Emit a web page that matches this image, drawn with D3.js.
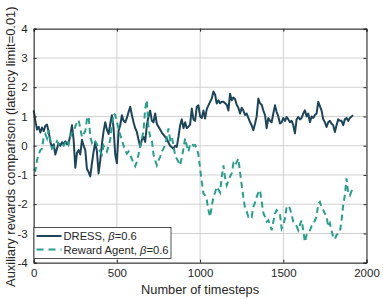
<!DOCTYPE html>
<html><head><meta charset="utf-8">
<script src="https://cdn.jsdelivr.net/npm/d3@7"></script>
<style>body{margin:0;background:#fff}svg{display:block;font-family:"Liberation Sans",Arial,Helvetica,sans-serif}</style>
</head><body><svg id="c" width="383" height="299"></svg>
<script>
const xTicks = [0, 500, 1000, 1500, 2000];
const yTicks = [-4, -3, -2, -1, 0, 1, 2, 3, 4];
const timestepStart = 0, timestepStep = 10;
const dressValues = [1.21,0.85,0.55,0.65,0.45,0.62,0.5,0.68,0.72,0.48,0.12,-0.05,0.05,-0.3,-0.1,0.08,0.0,0.12,0.05,0.15,
0.05,0.1,0.35,0.7,0.2,-0.75,-0.25,-0.15,-0.3,0.2,0.0,-0.15,-0.8,-0.9,-1.05,-0.6,-0.2,0.12,-0.2,-0.95,
-0.5,0.05,0.5,0.8,0.55,0.4,0.75,1.04,0.6,-0.3,-0.6,0.5,0.7,1.04,0.85,0.8,0.95,1.15,1.33,1.05,
0.8,0.6,0.47,0.2,-0.04,0.2,0.3,0.13,0.7,1.0,1.2,0.85,0.8,1.1,0.75,0.65,0.55,0.45,0.38,0.3,
0.25,0.1,0.0,-0.05,-0.1,0.0,-0.04,0.3,0.7,0.9,0.6,0.8,0.6,0.65,0.72,1.27,0.9,0.85,1.33,1.38,
1.0,0.95,1.2,0.93,1.25,1.38,1.5,1.61,1.85,1.75,1.44,1.55,1.45,1.5,1.5,1.45,1.4,1.2,1.78,1.55,
1.65,1.6,1.4,1.3,1.1,1.3,1.2,1.05,1.1,0.95,0.81,0.7,0.53,0.75,1.0,1.61,1.45,1.4,1.2,1.05,
0.6,0.95,0.85,0.8,1.1,1.38,1.15,1.0,0.76,0.8,0.95,0.85,0.98,0.9,0.8,0.85,0.7,0.42,0.9,0.98,
0.9,0.95,1.1,1.21,1.0,1.1,0.8,1.0,0.95,1.05,1.1,1.5,1.35,1.2,0.9,0.8,0.64,0.8,0.85,0.75,
0.7,0.47,0.7,0.9,0.85,0.85,0.7,0.9,0.95,0.85,0.95,1.0,1.04];
const rewardAgentValues = [-0.8,-0.85,-0.5,-0.3,-0.15,-0.1,0.3,0.4,0.25,0.53,0.2,-0.1,-0.05,0.0,0.15,0.05,0.1,0.05,0.0,0.1,
0.2,0.05,0.3,0.45,0.5,0.65,0.81,0.87,0.6,0.3,0.4,0.5,0.9,1.0,0.3,0.1,0.2,0.15,0.05,-0.1,
-0.2,-0.3,0.0,-0.1,-0.2,0.0,0.2,0.7,1.1,1.05,0.8,0.6,0.36,0.2,0.0,-0.15,-0.27,-0.2,-0.3,-0.45,
-0.61,-0.7,-0.55,-0.3,0.0,0.25,0.5,1.27,1.56,0.6,0.3,0.2,-0.3,-0.5,-0.67,-0.5,-0.38,-0.2,-0.1,0.02,
0.3,0.59,0.2,0.3,0.0,-0.32,-0.45,-0.55,-0.67,-0.4,-0.1,0.25,0.0,-0.2,0.05,0.08,0.0,0.02,-0.1,-0.3,
-0.78,-1.24,-1.63,-1.7,-1.86,-2.2,-2.43,-2.09,-1.75,-1.6,-1.41,-1.5,-1.6,-1.07,-0.67,-1.1,-1.35,-1.2,-1.05,-0.95,
-0.61,-0.7,-0.55,-0.44,-0.9,-1.35,-1.75,-2.15,-2.25,-2.43,-2.38,-2.43,-2.09,-1.95,-1.75,-1.6,-1.52,-1.9,-2.3,-2.43,
-2.6,-2.55,-2.7,-2.89,-2.6,-2.32,-2.2,-2.25,-2.35,-2.83,-2.7,-2.5,-2.09,-2.05,-2.15,-2.35,-2.6,-2.65,-2.75,-2.89,
-2.7,-2.55,-2.9,-3.29,-3.05,-2.95,-2.9,-2.75,-2.7,-2.55,-2.43,-1.98,-1.92,-2.1,-2.2,-2.32,-2.4,-2.77,-2.65,-2.9,
-3.12,-3.2,-3.05,-3.0,-2.95,-2.55,-2.03,-1.69,-1.12,-1.63,-1.7,-1.55,-1.41];
const seriesNames = ["DRESS, ", "Reward Agent, "];
const seriesColors = ["#1e4459", "#2a9d8c"];

const svg = d3.select("#c");
const L = 33.7, R = 366.5, T = 28.7, B = 262.7;
const x = d3.scaleLinear().domain([0, 2000]).range([L, R]);
const y = d3.scaleLinear().domain([-4, 4]).range([B, T]);

// grid
const g = svg.append("g");
g.selectAll(".gx").data(xTicks).join("line")
  .attr("x1", d => x(d)).attr("x2", d => x(d)).attr("y1", T).attr("y2", B)
  .attr("stroke", "#d0d0d0").attr("stroke-width", 1);
g.selectAll(".gy").data(yTicks).join("line")
  .attr("y1", d => y(d)).attr("y2", d => y(d)).attr("x1", L).attr("x2", R)
  .attr("stroke", "#d0d0d0").attr("stroke-width", 1);

// data lines
const mk = vals => vals.map((v, i) => [timestepStart + i * timestepStep, v]);
const line = d3.line().x(d => x(d[0])).y(d => y(d[1]));
svg.append("path").datum(mk(dressValues)).attr("d", line)
  .attr("fill", "none").attr("stroke", seriesColors[0]).attr("stroke-width", 2).attr("stroke-linejoin", "round");
svg.append("path").datum(mk(rewardAgentValues)).attr("d", line)
  .attr("fill", "none").attr("stroke", seriesColors[1]).attr("stroke-width", 2).attr("stroke-dasharray", "6,4");

// axes
const axColor = "#262626";
const xb = svg.append("g").attr("transform", `translate(0,${B})`)
  .call(d3.axisBottom(x).tickValues(xTicks).tickSize(-3).tickPadding(6).tickFormat(d3.format("d")));
const xt = svg.append("g").attr("transform", `translate(0,${T})`)
  .call(d3.axisTop(x).tickValues(xTicks).tickSize(-3).tickFormat(""));
const yl = svg.append("g").attr("transform", `translate(${L},0)`)
  .call(d3.axisLeft(y).tickValues(yTicks).tickSize(-3).tickPadding(6).tickFormat(d => d3.format("d")(d).replace("−", "-")));
const yr = svg.append("g").attr("transform", `translate(${R},0)`)
  .call(d3.axisRight(y).tickValues(yTicks).tickSize(-3).tickFormat(""));
[xb, xt, yl, yr].forEach(a => {
  a.select(".domain").attr("stroke", axColor).attr("stroke-width", 1);
  a.selectAll(".tick line").attr("stroke", axColor);
  a.selectAll("text").attr("fill", "#262626").style("font-size", "11.5px").style("font-family", '"Liberation Sans",Arial,sans-serif');
});

// axis titles
svg.append("text").attr("x", (L + R) / 2).attr("y", 294).attr("text-anchor", "middle")
  .attr("fill", "#262626").style("font-size", "12.8px").text("Number of timesteps");
svg.append("text").attr("transform", `translate(15,${(T + B) / 2 + 1}) rotate(-90)`).attr("text-anchor", "middle")
  .attr("fill", "#262626").style("font-size", "12.9px").text("Auxiliary rewards comparison (latency limit=0.01)");

// legend
const lg = svg.append("g");
lg.append("rect").attr("x", 34).attr("y", 227.5).attr("width", 137).attr("height", 31)
  .attr("fill", "#fff").attr("stroke", axColor).attr("stroke-width", 0.8);
[0, 1].forEach(i => {
  const yy = 236 + i * 13.5;
  lg.append("line").attr("x1", 36.5).attr("x2", 61.5).attr("y1", yy).attr("y2", yy)
    .attr("stroke", seriesColors[i]).attr("stroke-width", 2)
    .attr("stroke-dasharray", i === 1 ? "7,5" : null);
  const t = lg.append("text").attr("x", 63.5).attr("y", yy + 4).attr("fill", "#262626").style("font-size", "11.2px");
  t.append("tspan").text(seriesNames[i]);
  t.append("tspan").style("font-style", "italic").text("β");
  t.append("tspan").text("=0.6");
});
</script></body></html>
